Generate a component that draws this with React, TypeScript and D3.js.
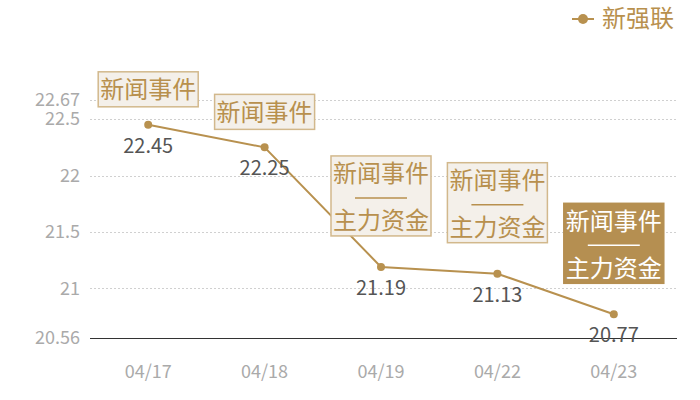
import React from 'react';
import * as d3 from 'd3';

const dates = ['04/17', '04/18', '04/19', '04/22', '04/23'];
const prices = [22.45, 22.25, 21.19, 21.13, 20.77];
// annotation lines per day, and whether the box is highlighted
const eventLines = [
  ['新闻事件'],
  ['新闻事件'],
  ['新闻事件', '主力资金'],
  ['新闻事件', '主力资金'],
  ['新闻事件', '主力资金'],
];
const eventHighlight = [false, false, false, false, true];
const yTicks = [20.56, 21, 21.5, 22, 22.5, 22.67];
const seriesName = '新强联';

const width = 700;
const height = 400;
const gold = '#b8914f';
const font = '"Noto Sans CJK SC", "Noto Sans", sans-serif';

const App: React.FC = () => {
  const x = d3.scaleBand<string>().domain(dates).range([90, 672]);
  const y = d3.scaleLinear().domain([20.56, 22.67]).range([338, 100]);
  const cx = (d: string) => (x(d) || 0) + x.bandwidth() / 2;

  const line = d3.line<number>()
    .x((_, i) => cx(dates[i]))
    .y(d => y(d));

  return (
    <svg width={width} height={height} style={{ position: 'absolute', left: 0, top: 0, fontFamily: font }}>
      <rect width={width} height={height} fill="#fff" />

      {/* grid + y ticks */}
      {yTicks.map(t => (
        <g key={t}>
          {t !== 20.56 && (
            <line x1={90} x2={677} y1={Math.round(y(t)) + 0.5} y2={Math.round(y(t)) + 0.5} stroke="#d0d0d0" strokeDasharray="2,2" />
          )}
          <text x={80} y={y(t)} dy="0.35em" textAnchor="end" fontSize={18} fill="#aaa">{t}</text>
        </g>
      ))}
      <line x1={90} x2={677} y1={338.5} y2={338.5} stroke="#333" strokeWidth={1} />

      {/* x ticks */}
      {dates.map(d => (
        <text key={d} x={cx(d)} y={372} dy="0.35em" textAnchor="middle" fontSize={18} fill="#aaa">{d}</text>
      ))}

      {/* series */}
      <path d={line(prices) || ''} fill="none" stroke={gold} strokeWidth={2} />
      {prices.map((v, i) => (
        <circle key={i} cx={cx(dates[i])} cy={y(v)} r={4} fill={gold} />
      ))}
      {prices.map((v, i) => (
        <text key={'v' + i} x={cx(dates[i])} y={y(v) + 21} dy="0.35em" textAnchor="middle" fontSize={20} fill="#555">
          {v.toFixed(2)}
        </text>
      ))}

      {/* event boxes */}
      {eventLines.map((lines, i) => {
        const px = cx(dates[i]);
        const py = y(prices[i]);
        const double = lines.length > 1;
        const h = double ? 80 : 35;
        const bottom = py - (double ? 31 : 18);
        const top = bottom - h;
        const hl = eventHighlight[i];
        const tc = hl ? '#fff' : '#b8904e';
        return (
          <g key={'e' + i}>
            <rect x={px - 50} y={top} width={100} height={h}
              fill={hl ? '#b58f51' : '#f4f0ea'} stroke={hl ? '#b58f51' : '#d2b88c'} strokeWidth={1.5} />
            <text x={px} y={top + 18} dy="0.35em" textAnchor="middle" fontSize={24} fill={tc}>{lines[0]}</text>
            {double && (
              <>
                <line x1={px - 26} x2={px + 26} y1={top + 42} y2={top + 42} stroke={tc} strokeWidth={1.5} />
                <text x={px} y={top + 65} dy="0.35em" textAnchor="middle" fontSize={24} fill={tc}>{lines[1]}</text>
              </>
            )}
          </g>
        );
      })}

      {/* legend */}
      <line x1={572} x2={594} y1={19} y2={19} stroke={gold} strokeWidth={2} />
      <circle cx={583} cy={19} r={5} fill={gold} />
      <text x={602} y={19} dy="0.35em" fontSize={24} fill="#b8904e">{seriesName}</text>
    </svg>
  );
};

export default App;
